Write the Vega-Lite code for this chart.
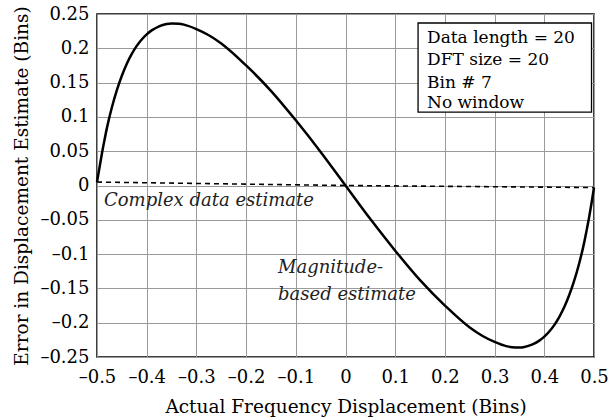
{
  "$schema": "https://vega.github.io/schema/vega-lite/v6.json",
  "width": 497,
  "height": 343,
  "autosize": {"type": "none"},
  "padding": {"left": 97, "top": 14, "right": 18, "bottom": 63},
  "background": "white",
  "config": {
    "font": "DejaVu Serif",
    "view": {"stroke": "black", "strokeWidth": 1.5},
    "axis": {
      "grid": true,
      "gridColor": "#9a9a9a",
      "gridWidth": 1,
      "gridOpacity": 1,
      "ticks": false,
      "domain": false,
      "labelOverlap": false,
      "labelFlush": false,
      "labelBound": false,
      "labelFont": "DejaVu Serif",
      "labelFontSize": 18,
      "labelColor": "black",
      "titleFont": "DejaVu Serif",
      "titleFontSize": 18.5,
      "titleFontWeight": "normal",
      "titleColor": "black"
    }
  },
  "datasets": {
    "magnitude": [
      {"x": -0.5, "y": 0.005},
      {"x": -0.495, "y": 0.026},
      {"x": -0.49, "y": 0.047},
      {"x": -0.485, "y": 0.066},
      {"x": -0.48, "y": 0.084},
      {"x": -0.47, "y": 0.114},
      {"x": -0.46, "y": 0.139},
      {"x": -0.45, "y": 0.16},
      {"x": -0.44, "y": 0.1776},
      {"x": -0.43, "y": 0.1918},
      {"x": -0.42, "y": 0.2035},
      {"x": -0.41, "y": 0.2129},
      {"x": -0.4, "y": 0.2204},
      {"x": -0.39, "y": 0.2261},
      {"x": -0.375, "y": 0.2321},
      {"x": -0.36, "y": 0.2353},
      {"x": -0.35, "y": 0.2362},
      {"x": -0.335, "y": 0.2358},
      {"x": -0.325, "y": 0.2345},
      {"x": -0.3, "y": 0.228},
      {"x": -0.275, "y": 0.219},
      {"x": -0.25, "y": 0.207},
      {"x": -0.2, "y": 0.175},
      {"x": -0.15, "y": 0.138},
      {"x": -0.1, "y": 0.095},
      {"x": -0.05, "y": 0.049},
      {"x": 0, "y": 0},
      {"x": 0.05, "y": -0.049},
      {"x": 0.1, "y": -0.095},
      {"x": 0.15, "y": -0.138},
      {"x": 0.2, "y": -0.175},
      {"x": 0.25, "y": -0.207},
      {"x": 0.275, "y": -0.219},
      {"x": 0.3, "y": -0.228},
      {"x": 0.325, "y": -0.2345},
      {"x": 0.335, "y": -0.2358},
      {"x": 0.35, "y": -0.2362},
      {"x": 0.36, "y": -0.2353},
      {"x": 0.375, "y": -0.2321},
      {"x": 0.39, "y": -0.2261},
      {"x": 0.4, "y": -0.2204},
      {"x": 0.41, "y": -0.2129},
      {"x": 0.42, "y": -0.2035},
      {"x": 0.43, "y": -0.1918},
      {"x": 0.44, "y": -0.1776},
      {"x": 0.45, "y": -0.16},
      {"x": 0.46, "y": -0.139},
      {"x": 0.47, "y": -0.114},
      {"x": 0.48, "y": -0.084},
      {"x": 0.485, "y": -0.066},
      {"x": 0.49, "y": -0.047},
      {"x": 0.495, "y": -0.026},
      {"x": 0.5, "y": -0.003}
    ],
    "complex": [
      {"x": -0.5, "y": 0.005},
      {"x": 0, "y": 0},
      {"x": 0.5, "y": -0.003}
    ],
    "notes": [
      {"x": -0.486, "y": -0.0226, "label": "Complex data estimate"},
      {"x": -0.1358, "y": -0.12, "label": "Magnitude-"},
      {"x": -0.1358, "y": -0.1596, "label": "based estimate"}
    ],
    "box": [
      {"x": 0.146, "x2": 0.495, "y": 0.1071, "y2": 0.2369}
    ],
    "boxtext": [
      {"x": 0.164, "y": 0.215, "label": "Data length = 20"},
      {"x": 0.164, "y": 0.183, "label": "DFT size = 20"},
      {"x": 0.164, "y": 0.149, "label": "Bin # 7"},
      {"x": 0.164, "y": 0.12, "label": "No window"}
    ]
  },
  "encoding": {
    "x": {
      "field": "x", "type": "quantitative",
      "scale": {"domain": [-0.5, 0.5], "nice": false, "zero": false},
      "axis": {
        "title": "Actual Frequency Displacement (Bins)",
        "values": [-0.5, -0.4, -0.3, -0.2, -0.1, 0, 0.1, 0.2, 0.3, 0.4, 0.5],
        "labelExpr": "replace(format(datum.value, '.1~f'), '\u2212', '\u2013')",
        "labelOverlap": false,
        "labelPadding": 11,
        "titlePadding": 11
      }
    },
    "y": {
      "field": "y", "type": "quantitative",
      "scale": {"domain": [-0.25, 0.25], "nice": false, "zero": false},
      "axis": {
        "title": "Error in Displacement Estimate (Bins)",
        "values": [-0.25, -0.2, -0.15, -0.1, -0.05, 0, 0.05, 0.1, 0.15, 0.2, 0.25],
        "labelExpr": "replace(format(datum.value, '.2~f'), '\u2212', '\u2013')",
        "labelOverlap": false,
        "labelPadding": 8,
        "titlePadding": 8
      }
    }
  },
  "layer": [
    {
      "data": {"name": "complex"},
      "mark": {"type": "line", "color": "black", "strokeWidth": 1.6, "strokeDash": [5, 4]}
    },
    {
      "data": {"name": "magnitude"},
      "mark": {"type": "line", "color": "black", "strokeWidth": 2.5, "interpolate": "monotone"}
    },
    {
      "data": {"name": "notes"},
      "mark": {"type": "text", "align": "left", "baseline": "middle", "fontStyle": "italic", "fontSize": 18, "color": "#222"},
      "encoding": {
        "text": {"field": "label"}
      }
    },
    {
      "data": {"name": "box"},
      "mark": {"type": "rect", "fill": "white", "stroke": "black", "strokeWidth": 1.3},
      "encoding": {
        "x2": {"field": "x2"},
        "y2": {"field": "y2"}
      }
    },
    {
      "data": {"name": "boxtext"},
      "mark": {"type": "text", "align": "left", "baseline": "middle", "fontSize": 17, "color": "black"},
      "encoding": {
        "text": {"field": "label"}
      }
    }
  ]
}
